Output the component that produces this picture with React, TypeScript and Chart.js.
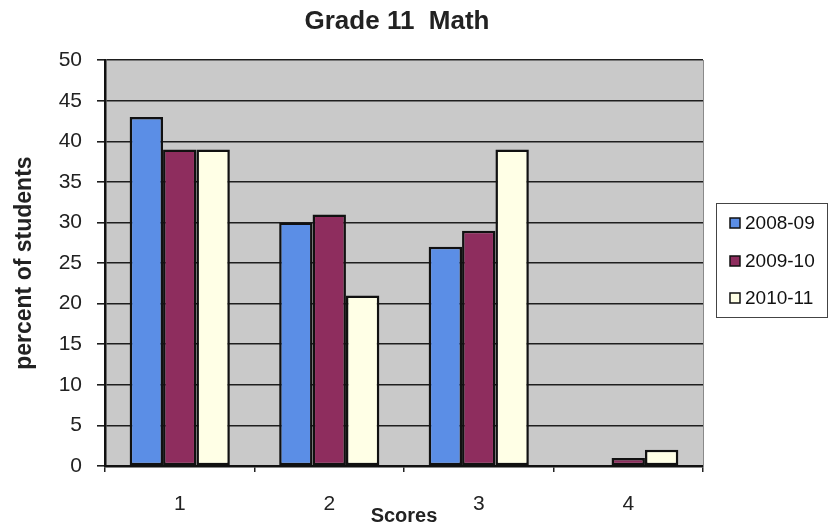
import React, { useEffect, useRef } from "react";
import { Chart, registerables } from "chart.js";

Chart.register(...registerables);

const categories = ["1", "2", "3", "4"];
const seriesNames = ["2008-09", "2009-10", "2010-11"];
const values0809 = [43, 30, 27, 0];
const values0910 = [39, 31, 29, 1];
const values1011 = [39, 21, 39, 2];
const seriesColors = ["#5B8EE6", "#8E2D5E", "#FFFFE6"];
const yTicks = { min: 0, max: 50, step: 5 };

const FONT = "Arial, 'Liberation Sans', sans-serif";

const plotBg = {
  id: "plotBg",
  beforeDraw(chart: any) {
    const { ctx, chartArea } = chart;
    ctx.save();
    ctx.fillStyle = "#C9C9C9";
    ctx.fillRect(chartArea.left, chartArea.top, chartArea.right - chartArea.left, chartArea.bottom - chartArea.top);
    ctx.restore();
  },
};

const boxLegend = {
  id: "boxLegend",
  afterDraw(chart: any) {
    const { ctx, chartArea } = chart;
    const x0 = chartArea.right + 13;
    const y0 = 203;
    const w = 111;
    const h = 114;
    ctx.save();
    ctx.fillStyle = "#FFFFFF";
    ctx.fillRect(x0, y0, w, h);
    ctx.strokeStyle = "#444";
    ctx.lineWidth = 1;
    ctx.strokeRect(x0 + 0.5, y0 + 0.5, w, h);
    const rows = [223, 261, 298];
    chart.data.datasets.forEach((ds: any, i: number) => {
      const cy = rows[i];
      ctx.fillStyle = ds.backgroundColor;
      ctx.fillRect(x0 + 14, cy - 5, 10, 10);
      ctx.strokeStyle = "#111";
      ctx.lineWidth = 1.5;
      ctx.strokeRect(x0 + 14, cy - 5, 10, 10);
      ctx.fillStyle = "#111";
      ctx.font = `19px ${FONT}`;
      ctx.textBaseline = "middle";
      ctx.textAlign = "left";
      ctx.fillText(ds.label, x0 + 29, cy + 1);
    });
    ctx.restore();
  },
};

export default function App() {
  const ref = useRef<HTMLCanvasElement | null>(null);

  useEffect(() => {
    if (!ref.current) return;
    document.body.style.margin = "0";
    const data = [values0809, values0910, values1011];
    const chart = new Chart(ref.current, {
      type: "bar",
      data: {
        labels: categories,
        datasets: seriesNames.map((name, i) => ({
          label: name,
          data: data[i],
          backgroundColor: seriesColors[i],
          borderColor: "#111",
          borderWidth: 2.5,
          borderSkipped: false,
          categoryPercentage: 0.67,
          barPercentage: 1,
          yAxisID: "y",
        })),
      },
      options: {
        responsive: false,
        animation: false,
        devicePixelRatio: 1,
        layout: { padding: { left: 0, right: 38, top: 0, bottom: 0 } },
        plugins: {
          legend: { display: false },
          tooltip: { enabled: false },
          title: {
            display: true,
            text: "Grade 11  Math",
            color: "#222",
            font: { family: FONT, size: 26, weight: "bold" },
            padding: { top: 6, bottom: 23 },
          },
        },
        scales: {
          x: {
            grid: {
              display: true,
              offset: true,
              drawOnChartArea: false,
              drawTicks: true,
              tickLength: 6,
              color: "#222",
              lineWidth: 1.5,
            },
            border: { display: true, color: "#111", width: 2.5 },
            ticks: { color: "#222", font: { family: FONT, size: 21 }, padding: 20 },
            title: {
              display: true,
              text: "Scores",
              color: "#222",
              font: { family: FONT, size: 20, weight: "bold" },
              padding: { top: 0, bottom: 3 },
            },
            afterFit: (s: any) => {
              s.height = 65;
            },
          },
          y: {
            min: yTicks.min,
            max: yTicks.max,
            ticks: { stepSize: yTicks.step, color: "#222", font: { family: FONT, size: 21 }, padding: 15 },
            grid: { color: "#1e1e1e", lineWidth: 1.6, tickLength: 8, drawTicks: true },
            border: { display: true, color: "#111", width: 2.5 },
            title: {
              display: true,
              text: "percent of students",
              color: "#222",
              font: { family: FONT, size: 23, weight: "bold" },
              padding: { top: 11, bottom: 0 },
            },
            afterFit: (s: any) => {
              s.width = 105;
            },
          },
          y2: {
            type: "linear",
            position: "right",
            min: 0,
            max: 50,
            ticks: { display: false },
            grid: { display: false },
            border: { display: true, color: "#8a8a8a", width: 1 },
            afterFit: (s: any) => {
              s.width = 91;
            },
          },
        },
      },
      plugins: [plotBg, boxLegend],
    });
    return () => chart.destroy();
  }, []);

  return (
    <div style={{ position: "absolute", left: 0, top: 0, width: 832, height: 531 }}>
      <canvas ref={ref} width={832} height={531} />
    </div>
  );
}
